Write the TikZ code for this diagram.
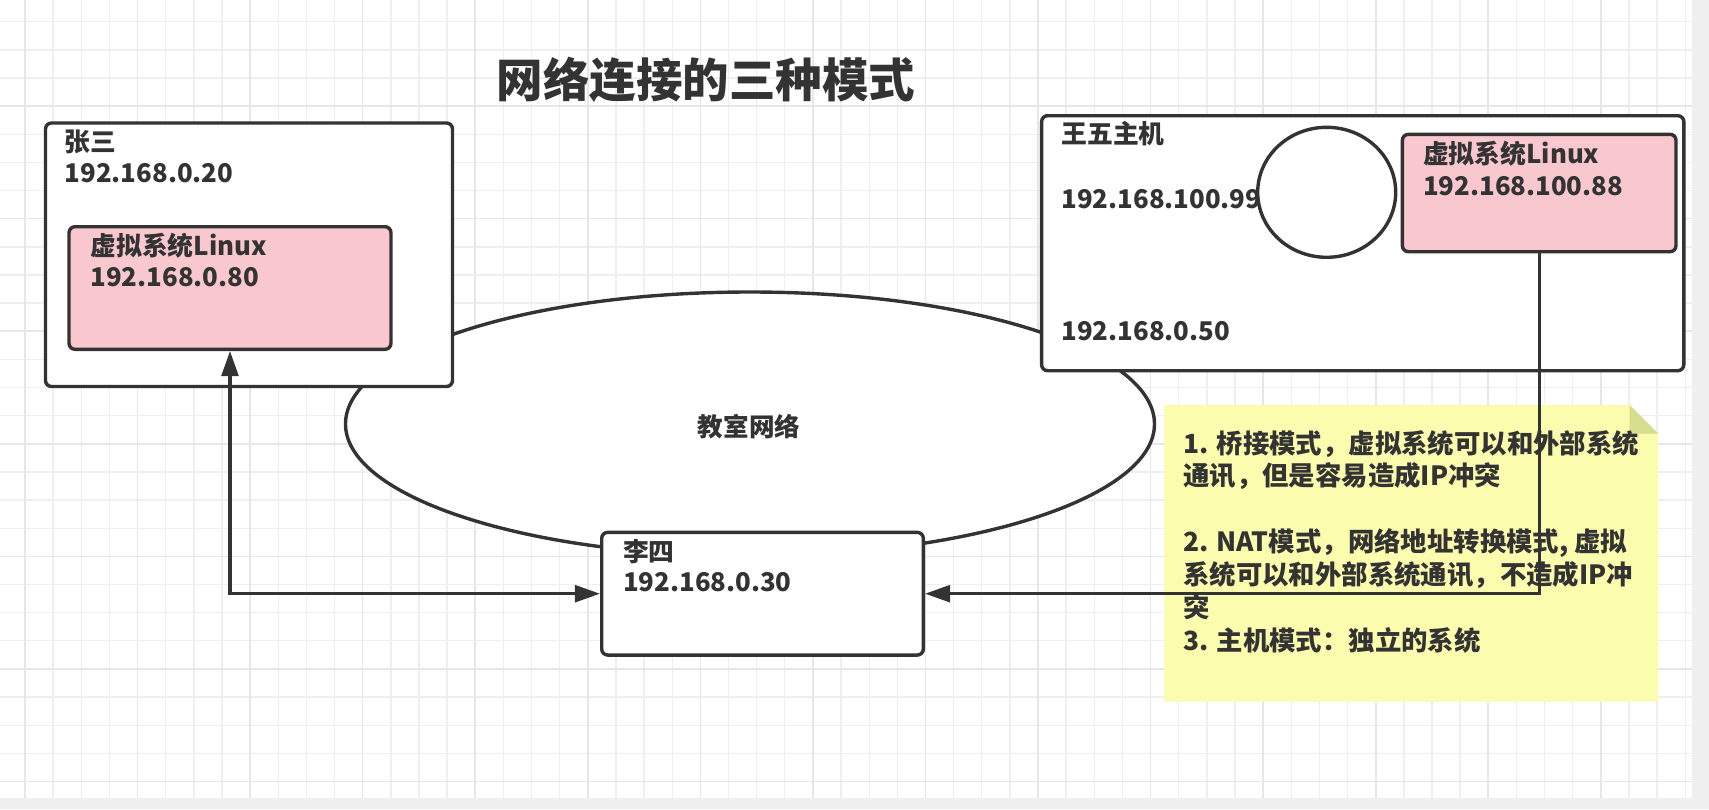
\documentclass[tikz,border=0pt]{standalone}
\usepackage{fontspec}
\setmainfont{Noto Sans CJK SC}
\usetikzlibrary{arrows.meta,shapes.geometric}
\definecolor{txt}{HTML}{333333}
\definecolor{pinkfill}{HTML}{F9C8CE}
\definecolor{notefill}{HTML}{FCFCAE}
\definecolor{notefold}{HTML}{D8DC8E}
\definecolor{gminor}{HTML}{EFEFEF}
\definecolor{gmajor}{HTML}{E7E7E7}
\definecolor{strip}{HTML}{F0F0F0}
\newcommand{\lblfont}{\fontsize{12.9}{16}\selectfont\bfseries}
\newcommand{\notefont}{\fontsize{13.2}{16}\selectfont\bfseries}
\newcommand{\ttlfont}{\fontsize{23.25}{28}\selectfont\bfseries}
\tikzset{
  box/.style={draw=txt, line width=1.7pt, rounded corners=3pt, fill=white, inner sep=0pt},
  pinkbox/.style={box, fill=pinkfill},
  oval/.style={ellipse, draw=txt, line width=1.7pt, fill=white, inner sep=0pt},
  lbl/.style={anchor=base west, inner sep=0pt, text=txt, font=\lblfont},
  notelbl/.style={anchor=base west, inner sep=0pt, text=txt, font=\notefont},
  conn/.style={draw=txt, line width=1.7pt},
  arr/.tip={Triangle[length=12.6pt,width=8.4pt]},
  gridminor/.style={draw=gminor, line width=0.7pt},
  gridmajor/.style={draw=gmajor, line width=0.8pt}
}
\begin{document}
\begin{tikzpicture}[x=0.5pt,y=-0.5pt]
\useasboundingbox (0,0) rectangle (1709,809);
\fill[white] (0,0) rectangle (1709,809);
% grid
\foreach \i in {0,...,59} \draw[gridminor] ({25+28.14*\i},0) -- ({25+28.14*\i},798);
\foreach \j in {0,...,27} \draw[gridminor] (0,{21.7+28.14*\j}) -- (1692,{21.7+28.14*\j});
\foreach \i in {0,4,...,56} \draw[gridmajor] ({25+28.14*\i},0) -- ({25+28.14*\i},798);
\foreach \j in {3,7,...,27} \draw[gridmajor] (0,{21.7+28.14*\j}) -- (1692,{21.7+28.14*\j});
\fill[strip] (1692,0) rectangle (1709,809);
\fill[strip] (0,798) rectangle (1709,809);

% title
\node[anchor=center, inner sep=0pt, text=txt, font=\ttlfont] (title) at (705.8,80) {网络连接的三种模式};

% classroom network
\node[oval, minimum width=404.5pt, minimum height=132pt] (net) at (750,424) {};
\node[anchor=center, inner sep=0pt, text=txt, font=\fontsize{12.8}{16}\selectfont\bfseries] (netl) at (749,427) {教室网络};

% Zhang San
\node[box, minimum width=203.5pt, minimum height=131.75pt] (zs) at (249,254.75) {};
\node[lbl] (zs1) at (64.3,151.5) {张三};
\node[lbl] (zs2) at (64.3,182.7) {192.168.0.20};
\node[pinkbox, minimum width=161pt, minimum height=61.3pt] (zsv) at (230,288) {};
\node[lbl] (zsv1) at (90,255) {虚拟系统Linux};
\node[lbl] (zsv2) at (90,286) {192.168.0.80};

% Wang Wu
\node[box, minimum width=321.1pt, minimum height=127.5pt] (ww) at (1362.7,243.2) {};
\node[lbl] (ww1) at (1061,143) {王五主机};
\node[lbl] (ww2) at (1061,208.3) {192.168.100.99};
\node[oval, minimum width=69pt, minimum height=65pt] (circ) at (1326.7,192.3) {};
\node[lbl] (ww3) at (1061,340.7) {192.168.0.50};
\node[pinkbox, minimum width=136.8pt, minimum height=58.7pt] (wwv) at (1539.2,193) {};
\node[lbl] (wwv1) at (1422.7,163.5) {虚拟系统Linux};
\node[lbl] (wwv2) at (1422.7,195.7) {192.168.100.88};

% Li Si
\node[box, minimum width=160.8pt, minimum height=61.35pt] (ls) at (762.5,593.7) {};
\node[lbl] (ls1) at (622.7,561) {李四};
\node[lbl] (ls2) at (622.7,591.7) {192.168.0.30};

% note
\fill[notefill] (1164.3,405) -- (1629.5,405) -- (1658,433.5) -- (1658,701.7) -- (1164.3,701.7) -- cycle;
\fill[notefold] (1629.5,405) -- (1658,433.5) -- (1629.5,433.5) -- cycle;
\node[notelbl] (n1) at (1182.8,453) {1. 桥接模式，虚拟系统可以和外部系统};
\node[notelbl] (n2) at (1182.8,485.9) {通讯，但是容易造成IP冲突};
\node[notelbl] (n3) at (1182.8,551.7) {2. NAT模式，网络地址转换模式, 虚拟};
\node[notelbl] (n4) at (1182.8,584.6) {系统可以和外部系统通讯，不造成IP冲};
\node[notelbl] (n5) at (1182.8,617.5) {突};
\node[notelbl] (n6) at (1182.8,650.4) {3. 主机模式：独立的系统};

% connectors
\draw[conn, arr-arr] (zsv.south) |- (ls.west);
\draw[conn, -arr] (wwv.south) |- (ls.east);
\end{tikzpicture}
\end{document}
